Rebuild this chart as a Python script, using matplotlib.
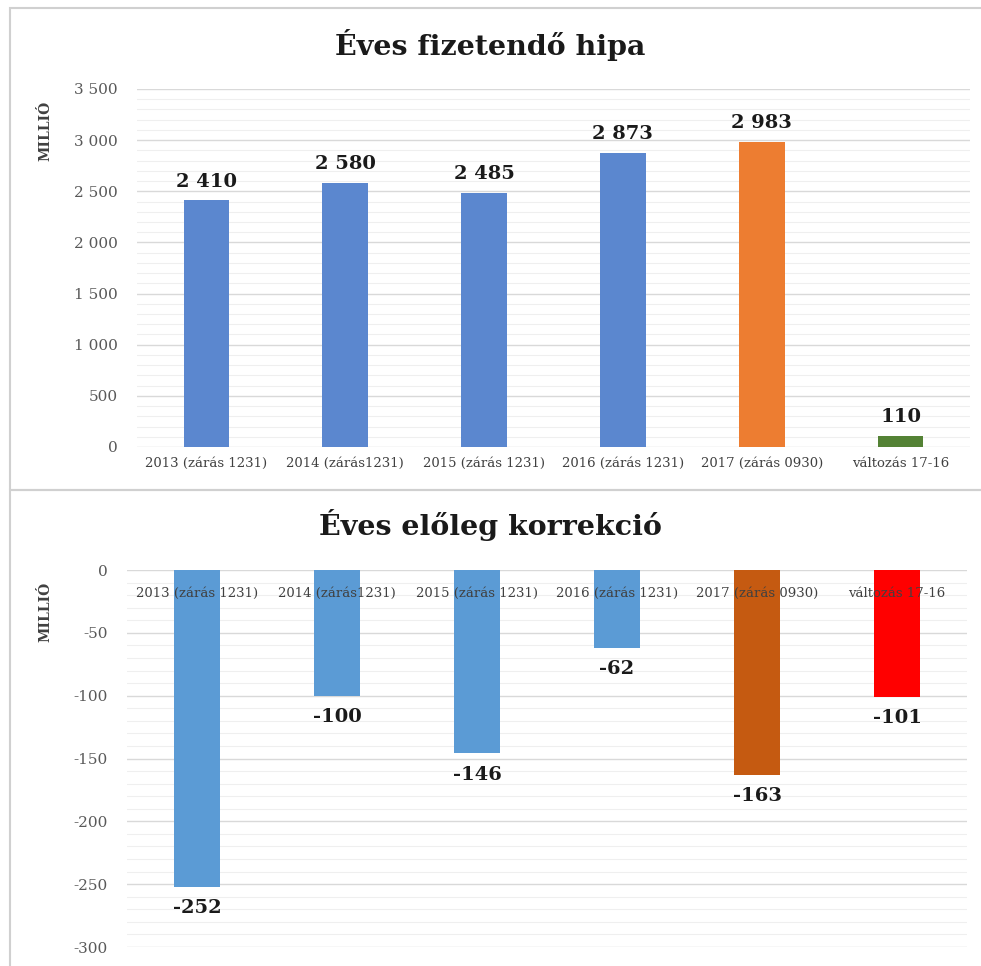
import matplotlib.pyplot as plt
from matplotlib.ticker import MultipleLocator, FuncFormatter
from matplotlib.patches import Rectangle

# ------------------------
# Adatok
# ------------------------
categories = ['2013 (zárás 1231)', '2014 (zárás1231)', '2015 (zárás 1231)',
              '2016 (zárás 1231)', '2017 (zárás 0930)', 'változás 17-16']
hipa = [2410, 2580, 2485, 2873, 2983, 110]
eloleg = [-252, -100, -146, -62, -163, -101]

hipa_colors = ['#5b87cf', '#5b87cf', '#5b87cf', '#5b87cf', '#ed7d31', '#548235']
eloleg_colors = ['#5b9bd5', '#5b9bd5', '#5b9bd5', '#5b9bd5', '#c55a11', '#ff0000']

FONT = 'DejaVu Serif'
W, H = 981, 966
plt.rcParams['axes.unicode_minus'] = False

fig = plt.figure(figsize=(W / 100, H / 100), dpi=100)
fig.patch.set_facecolor('white')


def px_axes(x0, y0, x1, y1):
    # pixel koordináták (bal-felső origó) -> figure fraction
    return fig.add_axes([x0 / W, 1 - y1 / H, (x1 - x0) / W, (y1 - y0) / H])


def thousands(v, pos):
    return f'{int(v):,}'.replace(',', ' ')


# keretek
fig.patches.append(Rectangle((10 / W, 1 - 490 / H), 1.2, (490 - 8) / H,
                             transform=fig.transFigure, fill=False,
                             edgecolor='#d0d0d0', lw=1.5))
fig.patches.append(Rectangle((10 / W, -0.05), 1.2, 1 - 490 / H + 0.05,
                             transform=fig.transFigure, fill=False,
                             edgecolor='#d0d0d0', lw=1.5))


def style_axes(ax, major, minor):
    ax.yaxis.set_major_locator(MultipleLocator(major))
    ax.yaxis.set_minor_locator(MultipleLocator(minor))
    ax.grid(axis='y', which='major', color='#d9d9d9', lw=1.0)
    ax.grid(axis='y', which='minor', color='#efefef', lw=0.8)
    ax.set_axisbelow(True)
    for s in ax.spines.values():
        s.set_visible(False)
    ax.tick_params(axis='y', which='both', length=0, labelsize=11,
                   labelcolor='#595959', pad=14)
    for lab in ax.get_yticklabels():
        lab.set_fontfamily(FONT)
    ax.set_xlim(-0.5, len(categories) - 0.5)


# ------------------------
# Felső: Éves fizetendő hipa
# ------------------------
x = list(range(len(categories)))
ax1 = px_axes(137, 89, 970, 447)
ax1.bar(x, hipa, width=0.33, color=hipa_colors, zorder=2)
ax1.set_ylim(0, 3500)
style_axes(ax1, 500, 100)
ax1.yaxis.set_major_formatter(FuncFormatter(thousands))
ax1.set_xticks(x)
ax1.set_xticklabels(categories, fontsize=9.5, color='#404040', family=FONT)
ax1.tick_params(axis='x', length=0, pad=7)
for i, v in enumerate(hipa):
    ax1.annotate(thousands(v, None), (i, v), xytext=(0, 7), textcoords='offset points',
                 ha='center', va='bottom', fontsize=14, fontweight='bold',
                 family=FONT, color='#1a1a1a')
fig.text(0.5, 1 - 45 / H, 'Éves fizetendő hipa', ha='center', va='center',
         fontsize=20.5, fontweight='bold', family=FONT, color='#1a1a1a')
fig.text(45 / W, 1 - 131 / H, 'MILLIÓ', rotation=90, ha='center', va='center',
         fontsize=10, fontweight='bold', family=FONT, color='#404040')

# ------------------------
# Alsó: Éves előleg korrekció
# ------------------------
ax2 = px_axes(127, 570, 967, 947)
ax2.bar(x, eloleg, width=0.33, color=eloleg_colors, zorder=2)
ax2.set_ylim(-300, 0)
style_axes(ax2, 50, 10)
ax2.set_xticks([])
for i, lab in enumerate(categories):
    ax2.annotate(lab, (i, 0), xytext=(0, -17), textcoords='offset points',
                 ha='center', va='center', fontsize=9.5, color='#404040',
                 family=FONT, zorder=3)
for i, v in enumerate(eloleg):
    ax2.annotate(str(v), (i, v), xytext=(0, -9), textcoords='offset points',
                 ha='center', va='top', fontsize=14, fontweight='bold',
                 family=FONT, color='#1a1a1a')
fig.text(0.5, 1 - 525 / H, 'Éves előleg korrekció', ha='center', va='center',
         fontsize=20.5, fontweight='bold', family=FONT, color='#1a1a1a')
fig.text(45 / W, 1 - 612 / H, 'MILLIÓ', rotation=90, ha='center', va='center',
         fontsize=10, fontweight='bold', family=FONT, color='#404040')

fig.savefig('out.png', dpi=100)
